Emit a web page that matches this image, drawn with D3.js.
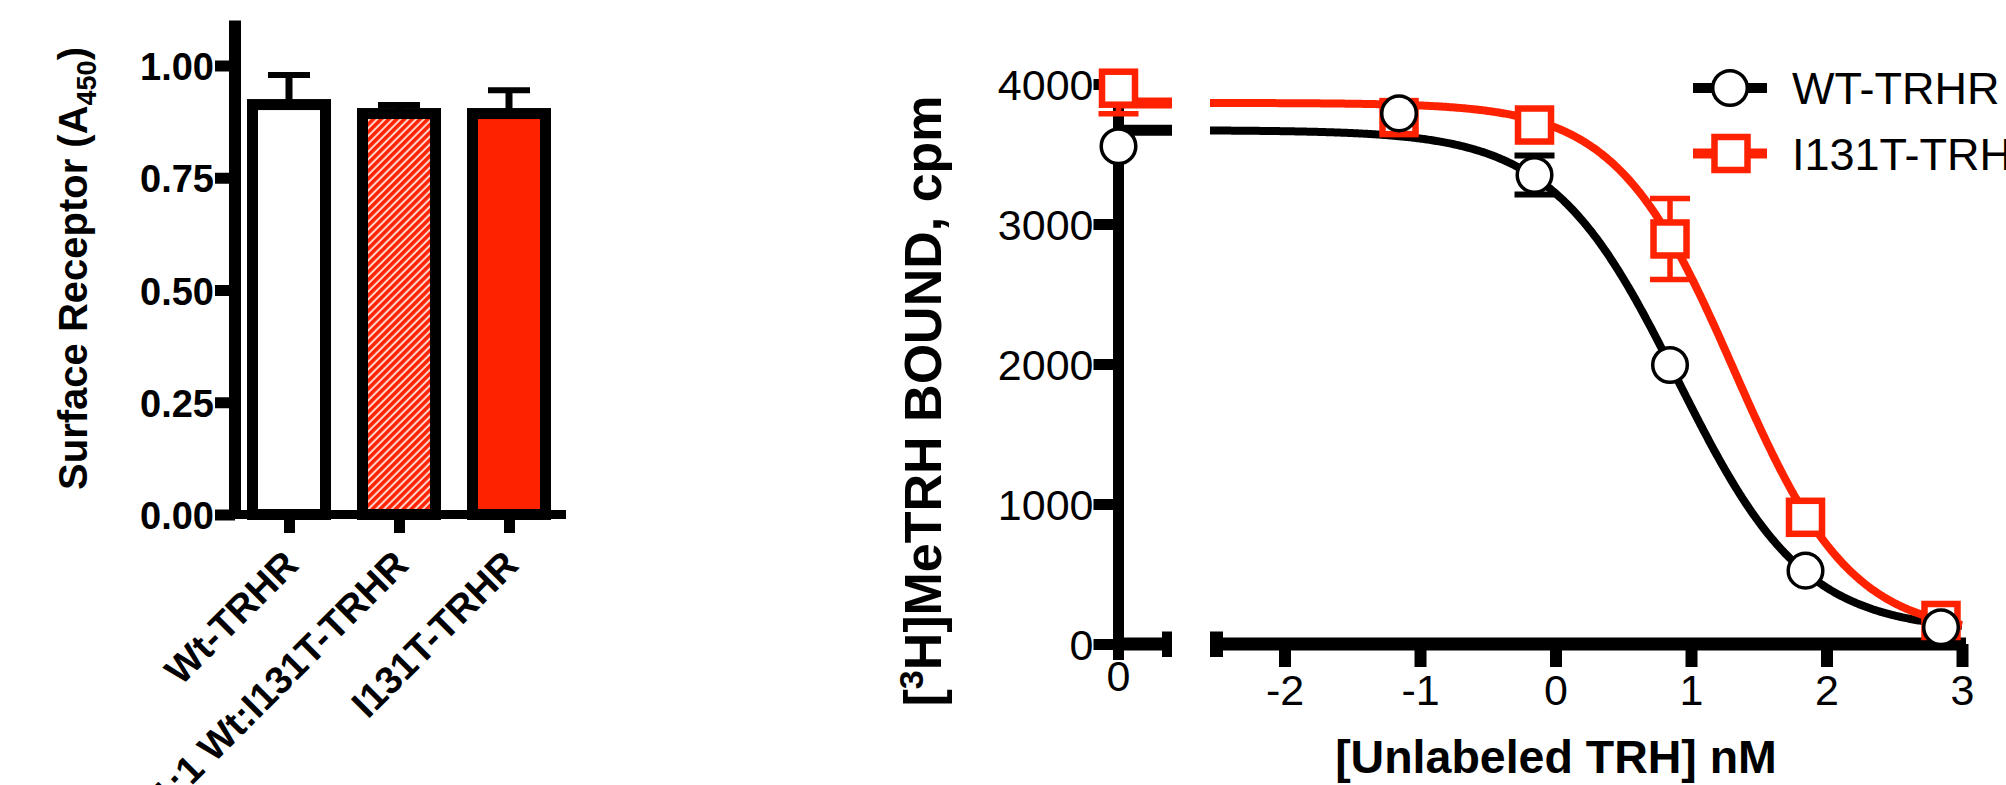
<!DOCTYPE html>
<html>
<head>
<meta charset="utf-8">
<script src="https://cdn.jsdelivr.net/npm/d3@7"></script>
<style>
html, body { margin: 0; padding: 0; background: #ffffff; }
svg { display: block; }
</style>
</head>
<body>
<svg id="chart" width="2006" height="785"></svg>
<script>
// ---------------- Panel A data (surface receptor ELISA) ----------------
const barCategories = ["Wt-TRHR", "1:1 Wt:I131T-TRHR", "I131T-TRHR"];
const barMeans = [0.913, 0.893, 0.893];
const barErrors = [0.066, 0.019, 0.052];
const barYTicks = [0, 0.25, 0.5, 0.75, 1.0];
const barYTickLabels = ["0.00", "0.25", "0.50", "0.75", "1.00"];

// ---------------- Panel B data (competition binding) ----------------
const seriesNames = ["WT-TRHR", "I131T-TRHR"];
const logConc = [-1.155, -0.155, 0.845, 1.845, 2.845];
const wtBound = [3790, 3350, 1993, 524, 120];
const wtErr = [0, 140, 0, 0, 0];
const mutBound = [3760, 3707, 2893, 905, 168];
const mutErr = [0, 0, 290, 0, 0];
const zeroDoseBound = [3555, 3970];   // [WT, I131T] at 0 nM unlabeled TRH
const zeroDoseErr = [0, 182];
const xTicks = [-2, -1, 0, 1, 2, 3];
const xTickLabels = ["-2", "-1", "0", "1", "2", "3"];
const yTicks = [0, 1000, 2000, 3000, 4000];
const yTickLabels = ["0", "1000", "2000", "3000", "4000"];
// fitted one-site competition curves [WT, I131T]
const fitTop = [3670, 3865];
const fitBottom = [90, 60];
const fitLogIC50 = [0.905, 1.315];
const fitHill = [0.93, 1.0];

// ---------------- styles ----------------
const FONT = "'Liberation Sans', Arial, Helvetica, sans-serif";
const RED = "#ff2200";
const barFillStyles = ["#ffffff", "url(#hatch)", RED];
const seriesColors = ["#000000", RED];

const svg = d3.select("#chart");
const defs = svg.append("defs");
const pat = defs.append("pattern")
  .attr("id", "hatch")
  .attr("patternUnits", "userSpaceOnUse")
  .attr("width", 5.5).attr("height", 5.5)
  .attr("patternTransform", "rotate(45)");
pat.append("rect").attr("width", 5.5).attr("height", 5.5).attr("fill", "#ffd6cf");
pat.append("rect").attr("width", 3.5).attr("height", 5.5).attr("fill", RED);

defs.append("clipPath").attr("id", "plotClipB")
  .append("rect").attr("x", 1040).attr("y", 78).attr("width", 966).attr("height", 580);

// =============== Panel A ===============
const yA = d3.scaleLinear().domain([0, 1.1]).range([514.5, 20.6]);
const xA = d3.scalePoint().domain(barCategories).range([289, 509]);
const barW = 73;
const gA = svg.append("g");

// bars
gA.selectAll("rect.bar").data(barCategories).join("rect")
  .attr("class", "bar")
  .attr("x", d => xA(d) - barW / 2)
  .attr("y", (d, i) => yA(barMeans[i]))
  .attr("width", barW)
  .attr("height", (d, i) => yA(0) - yA(barMeans[i]))
  .attr("fill", (d, i) => barFillStyles[i])
  .attr("stroke", "#000").attr("stroke-width", 11);

// error bars (upward only)
gA.selectAll("line.errv").data(barCategories).join("line")
  .attr("class", "errv")
  .attr("x1", d => xA(d)).attr("x2", d => xA(d))
  .attr("y1", (d, i) => yA(barMeans[i]))
  .attr("y2", (d, i) => yA(barMeans[i] + barErrors[i]))
  .attr("stroke", "#000").attr("stroke-width", 7);
gA.selectAll("line.errc").data(barCategories).join("line")
  .attr("class", "errc")
  .attr("x1", d => xA(d) - 21).attr("x2", d => xA(d) + 21)
  .attr("y1", (d, i) => yA(barMeans[i] + barErrors[i]))
  .attr("y2", (d, i) => yA(barMeans[i] + barErrors[i]))
  .attr("stroke", "#000").attr("stroke-width", 6);

// y axis
const axA = d3.axisLeft(yA).tickValues(barYTicks)
  .tickFormat((d, i) => barYTickLabels[i])
  .tickSize(20).tickPadding(1).tickSizeOuter(0);
const gAy = gA.append("g").attr("transform", "translate(235,0)").call(axA);
gAy.select(".domain").remove();
gAy.selectAll(".tick line").attr("stroke", "#000").attr("stroke-width", 11);
gAy.selectAll(".tick text")
  .attr("font-family", FONT).attr("font-weight", "bold").attr("font-size", 38)
  .attr("fill", "#000").attr("dy", "0.37em");
gA.append("line").attr("x1", 235).attr("x2", 235)
  .attr("y1", yA(1.1)).attr("y2", 519)
  .attr("stroke", "#000").attr("stroke-width", 12);

// x axis
gA.append("line").attr("x1", 229).attr("x2", 566)
  .attr("y1", yA(0)).attr("y2", yA(0))
  .attr("stroke", "#000").attr("stroke-width", 9);
const axAx = d3.axisBottom(xA).tickSize(14).tickSizeOuter(0);
const gAx = gA.append("g").attr("transform", "translate(0,519)").call(axAx);
gAx.select(".domain").remove();
gAx.selectAll(".tick line").attr("stroke", "#000").attr("stroke-width", 11);
gAx.selectAll(".tick text")
  .attr("font-family", FONT).attr("font-weight", "bold").attr("font-size", 38.5)
  .attr("fill", "#000")
  .attr("x", 11).attr("y", 48).attr("dy", 0)
  .attr("text-anchor", "end")
  .attr("transform", "rotate(-45,11,48)");

// y title
const tA = gA.append("text")
  .attr("transform", "translate(87,268.5) rotate(-90)")
  .attr("text-anchor", "middle")
  .attr("font-family", FONT).attr("font-weight", "bold").attr("font-size", 40)
  .attr("fill", "#000");
tA.append("tspan").text("Surface Receptor (A");
tA.append("tspan").attr("font-size", 27).attr("dy", 9).text("450");
tA.append("tspan").attr("dy", -9).text(")");

// =============== Panel B ===============
const yB = d3.scaleLinear().domain([0, 4000]).range([644, 84]);
const xB = d3.scaleLinear().domain([-2.55, 3]).range([1210, 1962]);
const xB0 = d3.scaleLinear().domain([0, 1]).range([1118.5, 1172]); // zero-dose segment
const gB = svg.append("g");

// y axis
gB.append("line").attr("x1", xB0(0)).attr("x2", xB0(0))
  .attr("y1", 78.5).attr("y2", 660)
  .attr("stroke", "#000").attr("stroke-width", 11);
const axBy = d3.axisLeft(yB).tickValues(yTicks)
  .tickFormat((d, i) => yTickLabels[i])
  .tickSize(25).tickPadding(0).tickSizeOuter(0);
const gBy = gB.append("g").attr("transform", `translate(${xB0(0)},0)`).call(axBy);
gBy.select(".domain").remove();
gBy.selectAll(".tick line").attr("stroke", "#000").attr("stroke-width", 11);
gBy.selectAll(".tick text")
  .attr("font-family", FONT).attr("font-size", 43)
  .attr("fill", "#000").attr("dy", "0.35em");

// x axis: zero-dose segment
gB.append("line").attr("x1", xB0(0)).attr("x2", xB0(1))
  .attr("y1", yB(0)).attr("y2", yB(0))
  .attr("stroke", "#000").attr("stroke-width", 13);
gB.append("line").attr("x1", xB0(1) - 5).attr("x2", xB0(1) - 5)
  .attr("y1", 631.5).attr("y2", 657)
  .attr("stroke", "#000").attr("stroke-width", 10);
gB.append("text").attr("x", xB0(0)).attr("y", 691)
  .attr("text-anchor", "middle")
  .attr("font-family", FONT).attr("font-size", 43).attr("fill", "#000")
  .text("0");

// x axis: log segment
gB.append("line").attr("x1", 1210).attr("x2", xB(3) + 4)
  .attr("y1", yB(0)).attr("y2", yB(0))
  .attr("stroke", "#000").attr("stroke-width", 13);
gB.append("line").attr("x1", 1216.5).attr("x2", 1216.5)
  .attr("y1", 631.5).attr("y2", 657)
  .attr("stroke", "#000").attr("stroke-width", 13);
const axBx = d3.axisBottom(xB).tickValues(xTicks)
  .tickFormat((d, i) => xTickLabels[i])
  .tickSize(23).tickSizeOuter(0);
const gBx = gB.append("g").attr("transform", `translate(0,${yB(0)})`).call(axBx);
gBx.select(".domain").remove();
gBx.selectAll(".tick line").attr("stroke", "#000").attr("stroke-width", 12);
gBx.selectAll(".tick text")
  .attr("font-family", FONT).attr("font-size", 43).attr("fill", "#000")
  .attr("y", 61).attr("dy", 0);

// titles
const tBy = gB.append("text")
  .attr("transform", "translate(941,401) rotate(-90)")
  .attr("text-anchor", "middle")
  .attr("font-family", FONT).attr("font-weight", "bold").attr("font-size", 52)
  .attr("fill", "#000");
tBy.append("tspan").text("[");
tBy.append("tspan").attr("font-size", 34).attr("dy", -18).text("3");
tBy.append("tspan").attr("dy", 18).text("H]MeTRH BOUND, cpm");

gB.append("text").attr("x", 1556).attr("y", 773)
  .attr("text-anchor", "middle")
  .attr("font-family", FONT).attr("font-weight", "bold").attr("font-size", 46.5)
  .attr("fill", "#000")
  .text("[Unlabeled TRH] nM");

// fitted curves
function fitValue(x, k) {
  return fitBottom[k] + (fitTop[k] - fitBottom[k]) / (1 + Math.pow(10, fitHill[k] * (x - fitLogIC50[k])));
}
const fitXs = d3.range(-2.55, 3.0001, 0.01);
[0, 1].forEach(k => {
  gB.append("path")
    .attr("d", d3.line().x(d => xB(d)).y(d => yB(fitValue(d, k)))(fitXs))
    .attr("fill", "none").attr("stroke", seriesColors[k]).attr("stroke-width", 8);
  // plateau drawn across the zero-dose segment
  gB.append("line").attr("x1", xB0(0)).attr("x2", xB0(1))
    .attr("y1", yB(fitTop[k])).attr("y2", yB(fitTop[k]))
    .attr("stroke", seriesColors[k]).attr("stroke-width", 11);
});

// error bars (clipped to the plot area)
const gErr = gB.append("g").attr("clip-path", "url(#plotClipB)");
function drawErr(cx, mean, err, color, w) {
  if (!err) return;
  gErr.append("line").attr("x1", cx).attr("x2", cx)
    .attr("y1", yB(mean - err)).attr("y2", yB(mean + err))
    .attr("stroke", color).attr("stroke-width", w);
  [mean - err, mean + err].forEach(v => {
    gErr.append("line").attr("x1", cx - 20).attr("x2", cx + 20)
      .attr("y1", yB(v)).attr("y2", yB(v))
      .attr("stroke", color).attr("stroke-width", w);
  });
}
logConc.forEach((x, i) => {
  drawErr(xB(x), wtBound[i], wtErr[i], "#000", 6);
  drawErr(xB(x), mutBound[i], mutErr[i], RED, 5.5);
});
drawErr(xB0(0), zeroDoseBound[0], zeroDoseErr[0], "#000", 6);
drawErr(xB0(0), zeroDoseBound[1], zeroDoseErr[1], RED, 5.5);

// symbols: I131T squares, then WT circles
const sq = 33;
gB.selectAll("rect.mut").data(logConc).join("rect")
  .attr("class", "mut")
  .attr("x", d => xB(d) - sq / 2)
  .attr("y", (d, i) => yB(mutBound[i]) - sq / 2)
  .attr("width", sq).attr("height", sq)
  .attr("fill", "#fff").attr("stroke", RED).attr("stroke-width", 6.5);
gB.append("rect")
  .attr("x", xB0(0) - sq / 2).attr("y", yB(zeroDoseBound[1]) - sq / 2)
  .attr("width", sq).attr("height", sq)
  .attr("fill", "#fff").attr("stroke", RED).attr("stroke-width", 6.5);

gB.selectAll("circle.wt").data(logConc).join("circle")
  .attr("class", "wt")
  .attr("cx", d => xB(d))
  .attr("cy", (d, i) => yB(wtBound[i]))
  .attr("r", 17.3)
  .attr("fill", "#fff").attr("stroke", "#000").attr("stroke-width", 3.5);
gB.append("circle")
  .attr("cx", xB0(0)).attr("cy", yB(zeroDoseBound[0]))
  .attr("r", 17.3)
  .attr("fill", "#fff").attr("stroke", "#000").attr("stroke-width", 3.5);

// legend
const legRows = [88, 153.5];
seriesNames.forEach((name, k) => {
  const g = gB.append("g");
  const cy = legRows[k];
  g.append("line").attr("x1", 1693).attr("x2", 1767)
    .attr("y1", cy).attr("y2", cy)
    .attr("stroke", seriesColors[k]).attr("stroke-width", 10);
  if (k === 0) {
    g.append("circle").attr("cx", 1730).attr("cy", cy).attr("r", 17.3)
      .attr("fill", "#fff").attr("stroke", "#000").attr("stroke-width", 3.5);
  } else {
    g.append("rect").attr("x", 1731 - sq / 2).attr("y", cy - sq / 2)
      .attr("width", sq).attr("height", sq)
      .attr("fill", "#fff").attr("stroke", RED).attr("stroke-width", 6.5);
  }
  g.append("text").attr("x", 1792).attr("y", cy + 16)
    .attr("font-family", FONT).attr("font-size", 45).attr("fill", "#000")
    .text(name);
});
</script>
</body>
</html>
